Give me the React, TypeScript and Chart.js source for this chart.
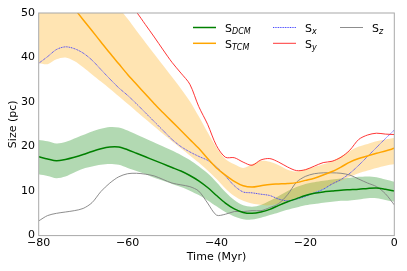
import React, { useEffect, useRef } from 'react';
import { Chart, registerables } from 'chart.js';
Chart.register(...registerables);

const TIME = [-80, -78, -76, -74, -72, -70, -68, -66, -64, -62, -60, -58, -56, -54, -52, -50, -48, -46, -44, -42, -40, -38, -36, -34, -32, -30, -28, -26, -24, -22, -20, -18, -16, -14, -12, -10, -8, -6, -4, -2, 0];

const DCM = [17.7, 17.2, 16.8, 17.1, 17.6, 18.2, 18.9, 19.5, 19.9, 19.9, 19.3, 18.5, 17.7, 16.9, 16.1, 15.3, 14.5, 13.5, 12.3, 10.8, 9.0, 7.3, 6.0, 5.2, 5.0, 5.3, 5.9, 6.8, 7.6, 8.3, 9.0, 9.5, 9.8, 10.0, 10.2, 10.3, 10.4, 10.6, 10.7, 10.4, 10.0];
const DCM_UPPER = [21.5, 21.2, 20.7, 21.0, 21.8, 22.6, 23.4, 24.0, 24.4, 24.3, 23.6, 22.7, 21.8, 20.9, 20.0, 19.1, 18.1, 17.0, 15.6, 14.0, 12.0, 9.8, 8.0, 6.8, 6.5, 6.9, 7.8, 8.9, 10.0, 10.9, 11.6, 12.0, 12.3, 12.6, 12.8, 13.0, 13.2, 13.3, 13.1, 12.6, 12.1];
const DCM_LOWER = [13.8, 13.4, 12.9, 13.3, 14.2, 15.0, 15.5, 15.9, 16.1, 15.9, 15.2, 14.5, 13.8, 13.0, 12.3, 11.6, 10.9, 10.1, 9.1, 7.9, 6.6, 5.3, 4.3, 3.7, 3.6, 4.0, 4.6, 5.2, 5.8, 6.3, 6.8, 7.1, 7.4, 7.6, 7.8, 7.9, 8.1, 8.4, 8.4, 8.0, 7.6];

const TCM = [61.0, 58.5, 56.0, 53.5, 51.0, 48.5, 46.0, 43.5, 41.0, 38.6, 36.2, 34.0, 31.8, 29.6, 27.6, 25.6, 23.6, 21.6, 19.6, 17.3, 15.2, 13.6, 12.2, 11.2, 10.9, 11.2, 11.5, 11.6, 11.7, 11.9, 12.4, 12.9, 13.6, 14.4, 15.4, 16.5, 17.3, 17.9, 18.5, 19.0, 19.6];
const TCM_UPPER = [66.0, 64.0, 62.0, 60.0, 58.0, 56.0, 54.5, 53.0, 52.0, 51.0, 48.7, 46.0, 43.4, 40.8, 38.2, 35.6, 33.0, 30.2, 26.8, 23.2, 19.8, 17.2, 16.0, 15.2, 16.0, 16.8, 16.6, 15.8, 14.8, 14.4, 14.9, 15.4, 16.0, 16.7, 17.8, 19.0, 20.0, 20.6, 21.2, 21.6, 22.0];
const TCM_LOWER = [38.7, 38.5, 39.6, 40.0, 39.2, 37.8, 36.2, 34.6, 33.0, 31.3, 29.6, 27.9, 26.2, 24.5, 22.8, 21.2, 19.6, 18.0, 16.4, 14.6, 12.7, 10.6, 8.9, 7.8, 7.2, 6.9, 6.8, 7.2, 7.8, 8.5, 9.2, 9.8, 10.5, 11.4, 12.3, 13.2, 14.0, 14.6, 15.2, 15.7, 16.0];

const SX = [38.7, 40.2, 41.8, 42.4, 42.0, 41.0, 39.4, 37.3, 35.2, 33.2, 31.5, 29.6, 27.6, 25.6, 23.6, 21.6, 20.0, 18.8, 17.8, 16.9, 15.4, 13.4, 11.2, 9.8, 9.6, 9.3, 9.0, 8.2, 7.8, 8.2, 8.8, 9.6, 10.4, 11.6, 12.6, 14.0, 15.8, 17.8, 19.8, 21.8, 23.7];
const SY = [70.0, 68.5, 67.0, 65.5, 64.0, 62.5, 61.0, 59.0, 57.0, 55.0, 52.5, 50.2, 47.4, 44.6, 41.7, 38.9, 36.5, 34.0, 29.0, 25.0, 20.2, 17.6, 17.5, 16.5, 15.8, 17.0, 17.3, 16.5, 15.4, 14.6, 14.8, 15.6, 16.4, 16.7, 17.6, 19.2, 21.6, 22.6, 23.0, 22.8, 22.7];
const SZ = [3.3, 4.5, 5.0, 5.3, 5.6, 6.1, 7.4, 9.9, 11.8, 13.2, 13.9, 14.0, 13.8, 13.4, 12.6, 11.8, 11.4, 11.0, 10.0, 7.3, 4.6, 4.8, 5.4, 5.4, 5.6, 5.6, 6.3, 7.2, 9.2, 12.0, 13.3, 13.9, 14.1, 14.1, 14.0, 13.6, 12.7, 11.8, 11.0, 9.4, 6.9];

const X_TICKS = [-80, -60, -40, -20, 0];
const Y_TICKS = [0, 10, 20, 30, 40, 50];

const FONT = 'DejaVu Sans';

const pts = (arr: number[]) => TIME.map((t, i) => ({ x: t, y: arr[i] }));

const legendItems = [
  { main: 'S', sub: 'DCM', color: '#008000', width: 1.5, dash: [] as number[], col: 0, row: 0 },
  { main: 'S', sub: 'TCM', color: '#ffa500', width: 1.5, dash: [] as number[], col: 0, row: 1 },
  { main: 'S', sub: 'x', color: '#3333ff', width: 0.9, dash: [1, 0.7], col: 1, row: 0 },
  { main: 'S', sub: 'y', color: '#ff2020', width: 0.9, dash: [] as number[], col: 1, row: 1 },
  { main: 'S', sub: 'z', color: '#808080', width: 0.9, dash: [] as number[], col: 2, row: 0 },
];

const overlayPlugin = {
  id: 'overlay',
  afterDraw(chart: any) {
    const { ctx, chartArea } = chart;
    ctx.save();
    ctx.strokeStyle = '#a8a8a8';
    ctx.lineWidth = 1;
    ctx.strokeRect(chartArea.left, chartArea.top, chartArea.right - chartArea.left, chartArea.bottom - chartArea.top);
    ctx.fillStyle = '#000';
    ctx.font = `11px "${FONT}"`;
    ctx.textAlign = 'center';
    ctx.textBaseline = 'alphabetic';
    ctx.fillText('Time (Myr)', (chartArea.left + chartArea.right) / 2, 259.5);
    ctx.save();
    ctx.translate(16.4, (chartArea.top + chartArea.bottom) / 2);
    ctx.rotate(-Math.PI / 2);
    ctx.fillText('Size (pc)', 0, 0);
    ctx.restore();
    const colX = [193, 273, 340];
    const rowY = [27.5, 43.3];
    legendItems.forEach((it) => {
      const x0 = colX[it.col];
      const y0 = rowY[it.row];
      ctx.strokeStyle = it.color;
      ctx.lineWidth = it.width;
      ctx.setLineDash(it.dash);
      ctx.beginPath();
      ctx.moveTo(x0, y0);
      ctx.lineTo(x0 + 23, y0);
      ctx.stroke();
      ctx.setLineDash([]);
      ctx.fillStyle = '#000';
      ctx.textAlign = 'left';
      ctx.font = `11px "${FONT}"`;
      const tx = x0 + 32;
      ctx.fillText(it.main, tx, y0 + 4.5);
      const w = ctx.measureText(it.main).width;
      ctx.font = `italic 8px "${FONT}"`;
      ctx.fillText(it.sub, tx + w, y0 + 6.8);
    });
    ctx.restore();
  },
};

export default function App() {
  const ref = useRef<HTMLCanvasElement>(null);
  useEffect(() => {
    document.body.style.margin = '0';
    const canvas = ref.current!;
    const thin = (data: number[], color: string, dash: number[] = []) => ({
      data: pts(data),
      borderColor: color,
      borderWidth: 0.9,
      borderDash: dash,
      pointRadius: 0,
      fill: false,
      tension: 0.3,
    });
    const chart = new Chart(canvas, {
      type: 'line',
      data: {
        datasets: [
          { data: pts(TCM_UPPER), borderWidth: 0, pointRadius: 0, fill: '+1', backgroundColor: 'rgba(255,165,0,0.3)', tension: 0.3 },
          { data: pts(TCM_LOWER), borderWidth: 0, pointRadius: 0, fill: false, tension: 0.3 },
          { data: pts(DCM_UPPER), borderWidth: 0, pointRadius: 0, fill: '+1', backgroundColor: 'rgba(0,128,0,0.3)', tension: 0.3 },
          { data: pts(DCM_LOWER), borderWidth: 0, pointRadius: 0, fill: false, tension: 0.3 },
          { data: pts(DCM), borderColor: '#008000', borderWidth: 1.5, pointRadius: 0, fill: false, tension: 0.3 },
          { data: pts(TCM), borderColor: '#ffa500', borderWidth: 1.5, pointRadius: 0, fill: false, tension: 0.3 },
          thin(SZ, '#808080'),
          thin(SY, '#ff2020'),
          thin(SX, '#3333ff', [1, 0.7]),
        ] as any,
      },
      options: {
        animation: false,
        responsive: false,
        devicePixelRatio: 1,
        layout: { padding: { top: 13, right: 12.7, left: 0, bottom: 0 } },
        plugins: {
          legend: { display: false },
          tooltip: { enabled: false },
          filler: { drawTime: 'beforeDatasetsDraw' } as any,
        },
        scales: {
          x: {
            type: 'linear',
            min: -80,
            max: 0,
            afterBuildTicks: (s: any) => { s.ticks = X_TICKS.map((v) => ({ value: v })); },
            afterFit: (s: any) => { s.height = 35.4; },
            grid: { display: false, drawTicks: false },
            border: { display: false },
            ticks: {
              padding: 1,
              color: '#000',
              font: { family: FONT, size: 11 },
              maxRotation: 0,
              callback: (v: any) => String(v).replace('-', '\u2212'),
            },
          },
          y: {
            type: 'linear',
            min: 0,
            max: 50,
            afterBuildTicks: (s: any) => { s.ticks = Y_TICKS.map((v) => ({ value: v })); },
            afterFit: (s: any) => { s.width = 38.7; },
            grid: { display: false, drawTicks: false },
            border: { display: false },
            ticks: {
              padding: 3.7,
              color: '#000',
              font: { family: FONT, size: 11 },
              callback: (v: any) => String(v),
            },
          },
        },
      },
      plugins: [overlayPlugin],
    });
    return () => chart.destroy();
  }, []);
  return (
    <div style={{ width: 407, height: 271 }}>
      <canvas ref={ref} width={407} height={271} style={{ display: 'block' }} />
    </div>
  );
}
